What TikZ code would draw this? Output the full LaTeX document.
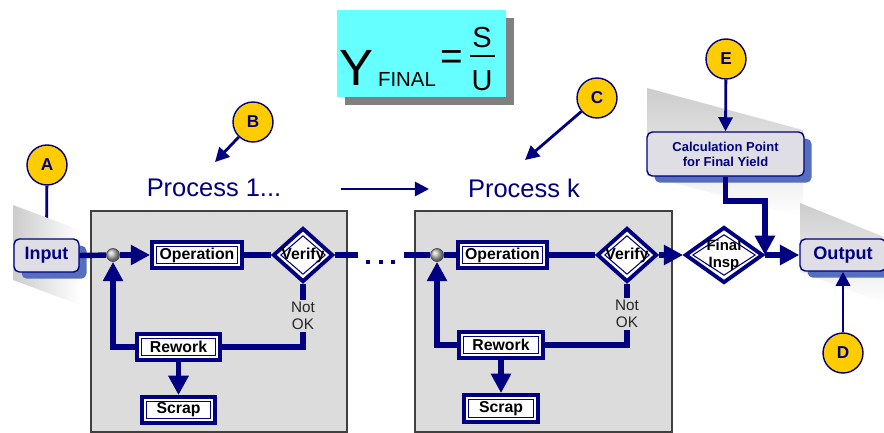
\documentclass[tikz,border=0pt]{standalone}
\usepackage{fontspec}
\setmainfont{Liberation Sans}
\usetikzlibrary{arrows.meta,shapes.geometric,shadows,backgrounds}

\definecolor{navyline}{RGB}{0,0,128}
\definecolor{markyellow}{RGB}{255,204,0}
\definecolor{formcyan}{RGB}{102,255,255}
\definecolor{procgray}{RGB}{220,220,220}
\definecolor{shadowblue}{RGB}{85,110,190}
\definecolor{iofill}{RGB}{222,222,228}

\newcommand{\fsz}[1]{\fontsize{#1}{#1}\selectfont}

\tikzset{
  flowline/.style={draw=navyline, line width=3.1pt},
  thinline/.style={draw=navyline, line width=1.6pt},
  bigtip/.style={-{Triangle[length=11pt,width=11pt]}},
  smalltip/.style={-{Triangle[length=8pt,width=8pt]}},
  opbox/.style={rectangle, draw=navyline, line width=2.2pt, fill=white, inner sep=0pt,
    minimum height=0.52cm, text=black, font=\fsz{9}\bfseries,
    path picture={\draw[navyline, line width=0.6pt]
      ([shift={(2.6pt,2.6pt)}]path picture bounding box.south west) rectangle
      ([shift={(-2.6pt,-2.6pt)}]path picture bounding box.north east);}},
  checkbox/.style={diamond, draw=navyline, line width=2.2pt, fill=white, inner sep=0pt,
    text=black, font=\fsz{9}\bfseries,
    path picture={\draw[navyline, line width=0.6pt]
      ([yshift=-4pt]path picture bounding box.north) -- ([xshift=-4pt]path picture bounding box.east) --
      ([yshift=4pt]path picture bounding box.south) -- ([xshift=4pt]path picture bounding box.west) -- cycle;}},
  ioblock/.style={rectangle, rounded corners=3pt, draw=navyline, line width=0.8pt, fill=iofill,
    text=navyline, inner sep=0pt,
    drop shadow={shadow xshift=4.3pt, shadow yshift=-3.8pt, fill=shadowblue, opacity=1}},
  marker/.style={circle, draw=navyline, line width=0.8pt, fill=markyellow, minimum size=0.8cm,
    inner sep=0pt, text=navyline, font=\fsz{9.8}\bfseries},
  junction/.style={circle, minimum size=0.26cm, inner sep=0pt, shading=ball, ball color=gray!55,
    draw=black!70, line width=0.4pt},
  proclabel/.style={text=navyline, font=\fsz{14.5}},
  noklabel/.style={align=center, inner sep=1pt, text=black!85, font=\fontsize{8.7}{9.6}\selectfont}
}

\begin{document}
\begin{tikzpicture}[x=0.02cm, y=-0.02cm]
  \useasboundingbox (0,0) rectangle (884,432);
  \clip (0,0) rectangle (884,432);

  % yield formula
  \node[rectangle, fill=formcyan, minimum width=3.38cm, minimum height=1.74cm,
    drop shadow={shadow xshift=4.5pt, shadow yshift=-4.5pt, fill=black!50, opacity=1}] (yf) at (421.5,53.5) {};
  \node[inner sep=0pt, font=\fsz{29}] (ysym) at (356.5,67.5) {Y};
  \node[inner sep=0pt, font=\fsz{11.6}] (yidx) at (407,79) {FINAL};
  \node[inner sep=0pt, font=\fsz{22}] (yeq) at (451.5,60) {=};
  \node[inner sep=0pt, font=\fsz{16.5}] (ynum) at (482,38) {S};
  \node[inner sep=0pt, font=\fsz{16.5}] (yden) at (482,81) {U};
  \draw[line width=0.9pt] (470,56) -- (495,56);

  % process labels
  \node[proclabel] (p1) at (214,188) {Process 1...};
  \node[proclabel] (pk) at (524,188) {Process k};
  \coordinate (pfrom) at (341,189);
  \coordinate (pto) at (429,189);
  \draw[thinline, smalltip] (pfrom) -- (pto);

  % markers
  \node[marker] (A) at (47,165) {A};
  \node[marker] (B) at (253,122) {B};
  \node[marker] (C) at (597,98) {C};
  \node[marker] (D) at (843,353) {D};
  \node[marker] (E) at (726,59) {E};
  \coordinate (btip) at (215,162);
  \coordinate (ctip) at (525,160);

  % input, output, calculation point
  \node[ioblock, minimum width=1.3cm, minimum height=0.66cm, font=\fsz{10.2}\bfseries] (in) at (46.5,255.5) {Input};
  \node[ioblock, minimum width=1.72cm, minimum height=0.64cm, font=\fsz{10.3}\bfseries] (out) at (843,255) {Output};
  \node[ioblock, minimum width=3.14cm, minimum height=0.88cm, align=center,
    font=\fontsize{7.4}{8.5}\selectfont\bfseries] (calc) at (725.5,154) {Calculation Point\\for Final Yield};

  % process 1
  \node[junction] (j1) at (113,255) {};
  \node[opbox, minimum width=1.8cm] (op1) at (197,255) {Operation};
  \node[checkbox, aspect=1.15, minimum width=1.2cm, minimum height=1.08cm] (ver1) at (303,255) {Verify};
  \node[noklabel] (nok1) at (303,316) {Not\\OK};
  \node[opbox, minimum width=1.66cm] (rw1) at (178.5,347) {Rework};
  \node[opbox, minimum width=1.46cm] (sc1) at (178.5,410) {Scrap};

  % process k
  \node[junction] (j2) at (437,255) {};
  \node[opbox, minimum width=1.78cm] (opk) at (502.5,255) {Operation};
  \node[checkbox, aspect=1.15, minimum width=1.2cm, minimum height=1.08cm] (verk) at (627,255) {Verify};
  \node[noklabel] (nokk) at (627,314) {Not\\OK};
  \node[opbox, minimum width=1.68cm] (rwk) at (501,345) {Rework};
  \node[opbox, minimum width=1.48cm, minimum height=0.54cm] (sck) at (501,408.5) {Scrap};

  % final inspection
  \node[checkbox, aspect=1.4, minimum width=1.56cm, minimum height=1.12cm, align=center,
    font=\fontsize{8.5}{9.6}\selectfont\bfseries] (fin) at (724,255) {Final\\Insp};

  \coordinate (gap1) at (358,255);
  \coordinate (gap2) at (404,255);
  \coordinate (calcbend) at (725.5,201);

  % main flow
  \draw[flowline] (in.east) -- (j1);
  \draw[flowline, bigtip] (j1) -- (op1);
  \draw[flowline] (op1) -- (ver1);
  \draw[flowline] (ver1.east) -- (gap1);
  \foreach \x in {368,381,393}
    \fill[navyline] (\x-2,260) rectangle (\x+2,264);
  \draw[flowline] (gap2) -- (j2);
  \draw[flowline] (j2) -- (opk);
  \draw[flowline] (opk) -- (verk);
  \draw[flowline, bigtip] (verk.east) -- (fin.west);
  \draw[flowline, bigtip] (fin.east) -- (out.west);
  \draw[flowline, bigtip] (calc.south) -- (calcbend) -| (fin.east);

  % rework loops
  \draw[flowline] (ver1.south) -- (nok1.north);
  \draw[flowline] (nok1.south) |- (rw1.east);
  \draw[flowline, bigtip] (rw1.west) -| (j1.south);
  \draw[flowline, bigtip] (rw1) -- (sc1);
  \draw[flowline] (verk.south) -- (nokk.north);
  \draw[flowline] (nokk.south) |- (rwk.east);
  \draw[flowline, bigtip] (rwk.west) -| (j2.south);
  \draw[flowline, bigtip] (rwk) -- (sck);

  % marker arrows
  \draw[thinline, smalltip] (B) -- (btip);
  \draw[thinline, smalltip] (C) -- (ctip);
  \draw[thinline, smalltip] (D) -- (out.south);
  \draw[thinline, smalltip] (E) -- (calc.north);

  \begin{scope}[on background layer]
    \draw[fill=procgray, draw=black!75, line width=0.6pt] (91,211) rectangle (347,432);
    \draw[fill=procgray, draw=black!75, line width=0.6pt] (415,211) rectangle (672,432);
    \draw[thinline] (A) -- (in.north);
    \shade[left color=gray!40, right color=white] (13,205) -- (80,230) -- (80,305) -- (13,280) -- cycle;
    \shade[top color=gray!40, bottom color=white] (647,88) -- (803,130) -- (803,217) -- (647,176) -- cycle;
    \shade[top color=gray!40, bottom color=white] (800,203) -- (884,237) -- (884,303) -- (800,272) -- cycle;
  \end{scope}
\end{tikzpicture}
\end{document}
